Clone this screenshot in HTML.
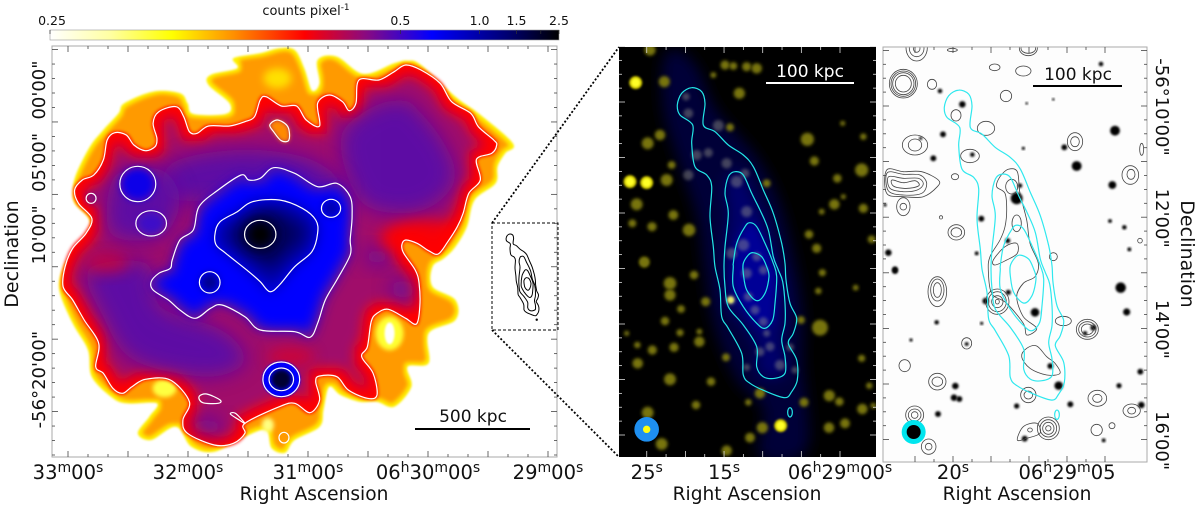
<!DOCTYPE html>
<html lang="en">
<head>
<meta charset="utf-8">
<title>Multi-wavelength cluster and galaxy maps</title>
<style>
html,body{margin:0;padding:0;background:#fff;width:1200px;height:505px;overflow:hidden}
svg{display:block}
text{font-family:"DejaVu Sans","Liberation Sans",sans-serif;fill:#111}
</style>
</head>
<body>
<svg id="fig" xmlns="http://www.w3.org/2000/svg" width="1200" height="505" viewBox="0 0 1200 505">
<defs>
<linearGradient id="cbar" x1="0" x2="1" y1="0" y2="0">
<stop offset="0" stop-color="#ffffff"/><stop offset=".12" stop-color="#ffffa0"/><stop offset=".24" stop-color="#ffff00"/><stop offset=".36" stop-color="#ff9000"/><stop offset=".5" stop-color="#ff0000"/><stop offset=".62" stop-color="#8a0a80"/><stop offset=".75" stop-color="#0000ff"/><stop offset=".9" stop-color="#000070"/><stop offset="1" stop-color="#000000"/>
</linearGradient>
<filter id="b1" x="-30%" y="-30%" width="160%" height="160%"><feGaussianBlur stdDeviation="1"/></filter>
<filter id="b15" x="-40%" y="-40%" width="180%" height="180%"><feGaussianBlur stdDeviation="1.5"/></filter>
<filter id="b2" x="-40%" y="-40%" width="180%" height="180%"><feGaussianBlur stdDeviation="2"/></filter>
<filter id="b4" x="-60%" y="-60%" width="220%" height="220%"><feGaussianBlur stdDeviation="4"/></filter>
<filter id="b6" x="-40%" y="-40%" width="180%" height="180%"><feGaussianBlur stdDeviation="6"/></filter>
<filter id="b7" x="-60%" y="-60%" width="220%" height="220%"><feGaussianBlur stdDeviation="7"/></filter>
<filter id="b10" x="-80%" y="-80%" width="260%" height="260%"><feGaussianBlur stdDeviation="10"/></filter>
<filter id="e3" x="-20%" y="-20%" width="140%" height="140%"><feMorphology operator="erode" radius="3"/><feGaussianBlur stdDeviation="2"/></filter>
<filter id="e6" x="-20%" y="-20%" width="140%" height="140%"><feMorphology operator="erode" radius="6"/><feGaussianBlur stdDeviation="5"/></filter>
<filter id="e8" x="-20%" y="-20%" width="140%" height="140%"><feMorphology operator="erode" radius="7"/><feGaussianBlur stdDeviation="6"/></filter>
<filter id="e12" x="-20%" y="-20%" width="140%" height="140%"><feMorphology operator="erode" radius="10"/><feGaussianBlur stdDeviation="8"/></filter>
<filter id="d2" x="-20%" y="-20%" width="140%" height="140%"><feMorphology operator="dilate" radius="1"/><feGaussianBlur stdDeviation="1.6"/></filter>
<clipPath id="clipL"><rect x="52" y="46" width="505" height="411"/></clipPath>
<clipPath id="clipM"><rect x="619" y="47" width="257" height="410"/></clipPath>
<clipPath id="clipR"><rect x="883" y="47" width="264" height="415"/></clipPath>
<clipPath id="clipOuter"><path id="clipOuterPath" d=""/></clipPath>
</defs>

<rect x="50" y="30" width="509" height="10" fill="url(#cbar)" stroke="#999" stroke-width="0.6"/>

<rect x="52" y="46" width="505" height="411" fill="#fff"/>
<g id="layerL" clip-path="url(#clipL)"></g>
<rect x="52" y="46" width="505" height="411" fill="none" stroke="#aaa" stroke-width="1"/>

<rect x="619" y="47" width="257" height="410" fill="#000"/>
<g id="layerM" clip-path="url(#clipM)"></g>

<rect x="883" y="47" width="264" height="415" fill="#fdfdfd"/>
<g id="layerR" clip-path="url(#clipR)"></g>
<rect x="883" y="47" width="264" height="415" fill="none" stroke="#aaa" stroke-width="1"/>

<g id="axes"></g>

<rect x="492" y="223" width="66" height="107" fill="none" stroke="#000" stroke-width="1" stroke-dasharray="3 2"/>
<line x1="492" y1="223" x2="619" y2="47" stroke="#000" stroke-width="1.8" stroke-dasharray="2 2"/>
<line x1="492" y1="330" x2="619" y2="457" stroke="#000" stroke-width="1.8" stroke-dasharray="2 2"/>
<g id="inset"></g>

<line x1="415" x2="530" y1="429" y2="429" stroke="#000" stroke-width="2"/>
<text x="473" y="422" text-anchor="middle" font-size="17">500 kpc</text>
<line x1="766" x2="854" y1="83" y2="83" stroke="#fff" stroke-width="2"/>
<text x="810" y="77" text-anchor="middle" font-size="17" style="fill:#fff">100 kpc</text>
<line x1="1033" x2="1122" y1="86" y2="86" stroke="#000" stroke-width="2"/>
<text x="1078" y="80" text-anchor="middle" font-size="17">100 kpc</text>

<text x="306" y="15" text-anchor="middle" font-size="13">counts pixel<tspan font-size="9" dy="-5">-1</tspan></text>
<text x="314" y="500" text-anchor="middle" font-size="18.6">Right Ascension</text>
<text x="747" y="500" text-anchor="middle" font-size="18.6">Right Ascension</text>
<text x="1017" y="500" text-anchor="middle" font-size="18.6">Right Ascension</text>
<text transform="translate(18,254) rotate(-90)" text-anchor="middle" font-size="19">Declination</text>
<text transform="translate(1181,254) rotate(90)" text-anchor="middle" font-size="19">Declination</text>
</svg>

<script>
// ---------- axis data ----------
const colorbarValues = [0.25, 0.5, 1.0, 1.5, 2.0, 2.5];
const colorbarLabels = ['0.25', '0.5', '1.0', '1.5', '', '2.5'];
const raLeftSeconds = [240, 180, 120, 60, 0];
const raLeftLabels = ['33^m00^s', '32^m00^s', '31^m00^s', '06^h30^m00^s', '29^m00^s'];
const decLeftMinutes = [0, 5, 10, 20];
const decLeftLabels = ['00\'00"', '05\'00"', '10\'00"', '-56\u00b020\'00"'];
const raMiddleSeconds = [25, 15, 0];
const raMiddleLabels = ['25^s', '15^s', '06^h29^m00^s'];
const raRightSeconds = [20, 5];
const raRightLabels = ['20^s', '06^h29^m05'];
const decRightMinutes = [10, 12, 14, 16];
const decRightLabels = ['-56\u00b010\'00"', '12\'00"', '14\'00"', '16\'00"'];

// ---------- X-ray map contours, in map-grid units ----------
const xrayEnvelope = [[190,570],[200,520],[235,440],[270,390],[310,340],[325,310],[400,275],[470,280],[490,310],[505,342],[590,342],[600,310],[545,255],[550,225],[620,205],[610,175],[680,160],[730,145],[770,150],[795,205],[815,272],[835,250],[830,180],[880,170],[950,222],[1030,190],[1065,182],[1100,195],[1190,290],[1250,340],[1340,430],[1320,460],[1300,500],[1295,550],[1240,600],[1220,680],[1190,740],[1160,775],[1130,800],[1130,860],[1190,900],[1190,960],[1120,1000],[1120,1090],[1065,1100],[1075,1160],[1030,1220],[985,1205],[940,1205],[890,1185],[860,1160],[845,1230],[835,1280],[770,1320],[745,1358],[710,1345],[695,1290],[640,1310],[560,1355],[500,1340],[460,1280],[395,1320],[360,1300],[390,1250],[410,1210],[330,1210],[290,1190],[240,1130],[230,1050],[190,970],[155,870],[165,800],[190,755],[235,670],[195,610]];
const xrayOuterContour = [[195,570],[215,540],[245,525],[270,480],[280,420],[300,398],[330,405],[350,435],[380,452],[405,440],[410,415],[400,370],[415,335],[460,320],[480,350],[495,395],[515,400],[545,378],[600,378],[640,365],[665,350],[680,300],[695,290],[735,318],[775,318],[800,360],[835,378],[830,310],[860,285],[895,305],[912,332],[930,310],[938,240],[990,240],[1030,215],[1060,195],[1100,210],[1150,250],[1180,305],[1230,340],[1250,380],[1290,420],[1298,435],[1285,460],[1245,478],[1255,540],[1225,580],[1210,640],[1195,680],[1170,725],[1145,762],[1120,752],[1090,730],[1060,720],[1050,735],[1055,760],[1085,810],[1095,850],[1097,920],[1088,972],[1060,955],[1015,928],[985,940],[970,965],[960,1040],[945,1070],[975,1120],[985,1185],[960,1195],[910,1170],[880,1130],[835,1128],[825,1145],[835,1200],[810,1238],[770,1210],[730,1220],[640,1270],[640,1300],[610,1330],[560,1335],[490,1300],[478,1260],[495,1205],[445,1140],[380,1138],[345,1160],[320,1180],[295,1165],[270,1120],[250,1100],[258,1030],[220,960],[190,900],[165,860],[170,800],[190,745],[225,700],[240,655],[205,610]];
const xrayMidContour = [[450,780],[470,720],[505,690],[520,620],[570,570],[630,525],[650,540],[680,535],[715,503],[770,520],[830,560],[880,550],[915,590],[920,650],[915,720],[915,765],[880,840],[850,900],[830,970],[810,1012],[770,995],[680,990],[640,950],[580,915],[550,925],[510,955],[470,930],[440,900],[400,870],[395,845],[415,820],[445,805]];
const xrayInnerContour = [[562,700],[575,665],[620,635],[660,605],[730,600],[790,625],[825,660],[830,700],[815,755],[770,800],[730,855],[705,875],[680,845],[650,815],[590,760],[565,735]];
const xrayPurpleRegions = [
  [[890,420],[960,330],[1050,300],[1100,340],[1160,430],[1190,530],[1140,610],[1050,640],[940,600]],
  [[450,490],[620,450],[790,470],[880,530],[880,580],[600,600],[440,590]],
  [[230,810],[380,790],[420,920],[560,980],[620,1030],[640,1090],[540,1130],[350,1080],[270,950]],
  [[300,530],[420,510],[470,600],[420,710],[290,700]],
  [[1025,845],[1075,845],[1080,890],[1030,890]],
  [[960,750],[1010,750],[1010,790],[960,790]],
  [[510,1260],[570,1260],[570,1300],[510,1300]]
];
const xrayBlobs = [[360,552,44,48,'#0a04e8'],[238,595,11,13,'#5010a8'],[395,670,34,32,'#3c10c8'],[865,625,23,25,'#0000b0'],[548,847,24,28,'#000090']];
const xrayLoops = [[360,552,47,53],[238,595,13,15],[395,670,40,38],[865,625,25,27],[548,847,27,32],[680,703,41,42],[735,1138,48,52],[735,1138,32,34],[742,1313,13,16]];
const xrayOrangeLoop = [[705,375],[725,360],[752,380],[755,420],[735,422],[715,395]];
const xraySmallLoopA = [[520,1190],[540,1182],[575,1200],[570,1210],[530,1208]];
const xraySmallLoopB = [[602,1242],[615,1240],[640,1270],[625,1260]];

// ---------- optical map data, in map-grid units ----------
const brightSources = [[107,158,18],[90,455,18],[140,458,18],[542,1187,18]];
const dimSources = [[193,155,15],[418,190,15],[143,340,16],[180,315,14],[110,523,16],[200,450,16],[220,555,13],[267,600,17],[133,695,13],[97,580,10],[156,590,12],[622,328,18],[643,393,12],[785,420,18],[712,445,11],[703,523,14],[790,535,12],[627,613,11],[815,628,10],[390,292,10],[375,105,12],[440,110,12],[470,115,14],[400,108,10],[215,405,10],[500,460,10],[150,60,15],[790,320,8],[650,655,12],[665,545,7],[728,280,6],[340,135,7],[730,500,6],[210,760,17],[210,795,15],[133,698,12],[282,735,11],[317,815,12],[243,837,10],[195,873,11],[240,908,9],[298,935,14],[298,905,7],[113,1000,14],[157,960,12],[222,952,12],[112,945,8],[80,910,6],[210,1048,16],[333,1055,11],[378,982,10],[288,1125,11],[143,1148,16],[185,1242,16],[380,1262,14],[450,1223,13],[487,1193,15],[480,1090,14],[445,1117,8],[612,1117,12],[688,1097,15],[718,1115,11],[787,1137,14],[735,1180,13],[687,1193,14],[820,1127,7],[660,893,22],[603,870,10],[667,728,9],[655,783,8],[785,985,9],[808,1067,8],[767,773,7]];
const galaxyKnots = [[265,250,13],[258,200,10],[355,287,15],[290,375,14],[325,368,12],[380,400,14],[265,435,14],[435,430,12],[410,455,16],[440,545,15],[430,645,16],[395,670,15],[470,680,12],[440,730,14],[490,720,12],[392,810,14],[445,800,12],[465,840,12],[490,875,12],[480,965,12],[510,950,12],[540,1005,14],[570,952,10],[440,1012,9],[585,1020,9],[500,910,9]];
const galaxyGlow = [[190,90],[230,60],[290,110],[350,240],[470,380],[540,520],[590,720],[610,860],[610,1000],[620,1260],[480,1280],[490,1140],[410,1050],[340,880],[310,700],[290,560],[230,380],[190,240]];
const cyanA = [[232,225],[245,190],[275,173],[305,185],[315,220],[310,285],[345,305],[385,345],[430,375],[460,410],[490,480],[520,550],[545,640],[555,700],[558,750],[570,820],[590,865],[580,910],[565,940],[590,990],[592,1050],[575,1085],[555,1103],[500,1085],[450,1060],[430,1035],[425,970],[385,895],[365,860],[360,780],[345,710],[340,650],[330,560],[335,470],[320,435],[285,410],[275,340],[278,285],[240,255]];
const cyanB = [[375,490],[385,440],[405,425],[430,435],[455,490],[480,540],[505,600],[520,680],[535,720],[548,755],[555,820],[555,880],[545,930],[555,980],[555,1030],[525,1045],[490,1040],[470,1010],[470,950],[430,885],[385,830],[375,770],[372,710],[375,650],[385,550]];
const cyanC = [[400,700],[410,640],[435,590],[450,578],[470,590],[495,640],[520,700],[530,740],[525,820],[518,870],[495,895],[470,880],[430,830],[400,770],[400,710]];
const cyanD = [[430,700],[445,675],[460,668],[485,680],[500,710],[507,740],[495,790],[470,812],[440,780],[430,730]];
const cyanIsland = [[570,1147,7,14]];

// ---------- radio/optical map data, in map-grid units ----------
const radioStars = [[247,223,8],[189,313,7],[160,385,7],[277,374,5],[122,325,3],[705,302,13],[590,408,13],[553,352,7],[697,465,10],[663,102,5],[180,183,5],[410,505,16],[420,467,5],[304,566,7],[383,632,6],[290,670,4],[25,668,8],[45,718,7],[690,573,4],[733,592,5],[748,658,4],[45,723,7],[722,773,14],[740,846,9],[385,787,6],[317,813,8],[465,847,11],[640,893,7],[615,910,5],[170,877,5],[511,1008,7],[536,1067,11],[781,1025,7],[717,1067,6],[226,1068,8],[222,1103,8],[238,1107,7],[410,1128,6],[571,1123,7],[784,1125,8],[174,1152,7],[434,1226,7],[671,1231,4],[260,942,4],[93,930,3],[305,880,3],[440,220,2],[520,208,2],[430,355,3],[15,525,3]];
const radioLoops = [[70,161,42,43],[70,161,37,38],[70,161,32,33],[70,161,24,25],[156,163,14,15],[378,198,17,17],[344,112,16,10],[430,123,23,15],[228,256,15,17],[318,295,26,21],[110,53,32,40],[110,55,22,25],[110,55,10,12],[445,55,27,22],[445,55,22,15],[217,60,15,5],[105,345,38,30],[105,345,20,18],[270,378,28,20],[585,335,23,27],[585,335,13,15],[751,435,25,28],[753,433,12,15],[225,440,11,9],[229,607,25,23],[229,607,16,14],[183,562,5,5],[780,632,7,7],[70,530,20,27],[70,530,10,10],[785,358,6,18],[520,680,12,12],[172,785,28,45],[172,780,20,33],[172,780,12,22],[352,815,35,38],[352,815,27,30],[352,815,17,18],[352,815,6,7],[550,873,24,14],[622,898,33,30],[622,898,26,23],[622,898,18,16],[260,940,15,17],[74,1007,17,18],[172,1055,26,25],[172,1055,16,14],[445,1095,23,23],[445,1095,13,12],[652,1105,28,24],[652,1105,14,12],[755,1142,26,20],[755,1142,12,10],[104,1155,27,27],[104,1155,19,18],[104,1155,10,10],[146,1250,22,23],[146,1250,10,10],[505,1195,33,34],[505,1195,25,26],[505,1195,17,18],[505,1195,8,8],[450,1200,7,6],[650,1200,17,17],[696,1187,9,9],[395,470,18,22],[410,580,14,25]];
const radioPeanuts = [
  [[20,420],[70,425],[125,425],[175,450],[172,470],[130,500],[70,500],[20,490]],
  [[22,428],[70,433],[120,435],[140,460],[125,490],[70,495],[25,482]],
  [[26,440],[70,445],[115,445],[130,462],[112,480],[70,485],[30,475]],
  [[36,450],[70,458],[105,452],[118,465],[100,473],[70,475],[40,468]]
];
const radioGalaxy = [[360,440],[385,418],[412,425],[420,490],[440,570],[450,640],[475,700],[465,740],[430,760],[410,800],[430,860],[470,895],[440,915],[430,880],[380,820],[335,790],[325,720],[330,680],[360,630],[375,590],[380,540],[375,490],[350,470]];
const radioGalaxyInner = [[340,690],[375,650],[410,640],[412,670],[380,690],[345,705]];
const radioGalaxyLoop = [[425,980],[440,955],[470,948],[500,980],[525,1000],[540,1030],[500,1035],[450,1015]];
const radioTail = [[412,1230],[430,1190],[470,1180],[480,1210],[440,1225]];

// ---------- helpers ----------
const NS = 'http://www.w3.org/2000/svg';
function mk(tag, attrs, parent, name) {
  const el = document.createElementNS(NS, tag);
  for (const k in attrs) el.setAttribute(k, attrs[k]);
  
  
  parent.appendChild(el);
  return el;
}
function smooth(pts) {
  const n = pts.length;
  let d = 'M' + pts[0][0].toFixed(1) + ' ' + pts[0][1].toFixed(1);
  for (let i = 0; i < n; i++) {
    const p0 = pts[(i - 1 + n) % n], p1 = pts[i], p2 = pts[(i + 1) % n], p3 = pts[(i + 2) % n];
    d += 'C' + (p1[0] + (p2[0] - p0[0]) / 6).toFixed(1) + ' ' + (p1[1] + (p2[1] - p0[1]) / 6).toFixed(1) + ' ' +
      (p2[0] - (p3[0] - p1[0]) / 6).toFixed(1) + ' ' + (p2[1] - (p3[1] - p1[1]) / 6).toFixed(1) + ' ' +
      p2[0].toFixed(1) + ' ' + p2[1].toFixed(1);
  }
  return d + 'Z';
}
const lx = v => v / 2.613, ly = v => v / 3;
const mx = v => 600 + v / 3, my = v => 30 + v / 3;
const rx = v => 880 + v / 3, ry = v => 30 + v / 3;
const inX = v => 506 + (v - 677) * 0.272, inY = v => 234 + (v - 87.7) * 0.264;
const mapL = pts => pts.map(p => [lx(p[0]), ly(p[1])]);
const mapM = pts => pts.map(p => [mx(p[0]), my(p[1])]);
const mapR = pts => pts.map(p => [rx(p[0]), ry(p[1])]);
const raL = s => 548 - s * 2;
const decL = m => 93 + m * 14.48;
const raM = s => 840 - s * 7.73;
const decM = m => 102 + (m - 10) * 55.5;
const raR = s => 1067 + (5 - s) * 7.6;
const decR = m => 106 + (m - 10) * 55.6;
const cbX = v => 50 + 509 * Math.log((v - 0.248) / 0.002) / Math.log(2.252 / 0.002);

const L = document.getElementById('layerL');
const M = document.getElementById('layerM');
const R = document.getElementById('layerR');
const axes = document.getElementById('axes');
const inset = document.getElementById('inset');

// ---------- X-ray panel ----------
document.getElementById('clipOuterPath').setAttribute('d', smooth(mapL(xrayOuterContour)));
mk('path', {d: smooth(mapL(xrayEnvelope)), fill: '#fff200', filter: 'url(#b1)'}, L, 'xray-yellow-halo');
mk('path', {d: smooth(mapL(xrayEnvelope)), fill: '#ff9a00', filter: 'url(#e3)'}, L, 'xray-orange-zone');
mk('ellipse', {cx: lx(1018), cy: ly(1000), rx: 14, ry: 17, fill: '#ffff30', filter: 'url(#b2)'}, L, 'xray-yellow-hole');
mk('ellipse', {cx: lx(1018), cy: ly(1000), rx: 5, ry: 11, fill: '#fff', filter: 'url(#b1)'}, L, 'xray-white-hole');
mk('ellipse', {cx: lx(725), cy: ly(235), rx: 14, ry: 10, fill: '#ffe000', filter: 'url(#b4)'}, L, 'xray-yellow-patch');
mk('ellipse', {cx: lx(430), cy: ly(1165), rx: 12, ry: 9, fill: '#ffff40', filter: 'url(#b2)'}, L, 'xray-yellow-patch-lower');
mk('ellipse', {cx: lx(700), cy: ly(1275), rx: 6, ry: 7, fill: '#ffff80', filter: 'url(#b2)'}, L, 'xray-pale-patch');
mk('path', {d: smooth(mapL(xrayOuterContour)), fill: '#ff0000', filter: 'url(#d2)'}, L, 'xray-red-zone');
const inner = mk('g', {'clip-path': 'url(#clipOuter)'}, L, 'xray-interior');
mk('path', {d: smooth(mapL(xrayOuterContour)), fill: '#a0086a', filter: 'url(#e8)'}, inner, 'xray-magenta-zone');
xrayPurpleRegions.forEach(region => {
  mk('path', {d: smooth(mapL(region)), fill: '#5a0fa8', filter: 'url(#b10)', opacity: 0.95}, inner, 'xray-purple-region');
});
mk('ellipse', {cx: lx(1110), cy: ly(715), rx: 45, ry: 18, fill: '#ff0000', filter: 'url(#b7)', opacity: 0.9}, inner, 'xray-red-right');
mk('ellipse', {cx: lx(760), cy: ly(1070), rx: 24, ry: 9, fill: '#e00020', filter: 'url(#b7)', opacity: 0.7}, inner, 'xray-red-south');
mk('ellipse', {cx: lx(280), cy: ly(790), rx: 22, ry: 10, fill: '#e00020', filter: 'url(#b7)', opacity: 0.6}, inner, 'xray-red-west');
mk('path', {d: smooth(mapL(xrayOrangeLoop)), fill: '#ff8a00', filter: 'url(#b2)'}, L, 'xray-orange-hole');
mk('path', {d: smooth(mapL(xrayMidContour)), fill: '#3008c8', filter: 'url(#b6)'}, L, 'xray-blue-halo');
mk('path', {d: smooth(mapL(xrayMidContour)), fill: '#0000ff', filter: 'url(#e6)'}, L, 'xray-blue-zone');
mk('path', {d: smooth(mapL(xrayInnerContour)), fill: '#0000b0', filter: 'url(#b7)'}, L, 'xray-navy-halo');
mk('path', {d: smooth(mapL(xrayInnerContour)), fill: '#000060', filter: 'url(#e12)'}, L, 'xray-navy-zone');
mk('ellipse', {cx: lx(680), cy: ly(703), rx: 18, ry: 17, fill: '#000020', filter: 'url(#b7)'}, L, 'xray-core-halo');
mk('ellipse', {cx: lx(680), cy: ly(703), rx: 9, ry: 9, fill: '#000', filter: 'url(#b4)'}, L, 'xray-core');
xrayBlobs.forEach(b => {
  mk('ellipse', {cx: lx(b[0]), cy: ly(b[1]), rx: b[2] / 2.613, ry: b[3] / 3, fill: b[4], filter: 'url(#b4)'}, L, 'xray-source');
});
mk('ellipse', {cx: lx(735), cy: ly(1138), rx: 19, ry: 18, fill: '#0000ff', filter: 'url(#b1)'}, L, 'xray-southern-source');
mk('ellipse', {cx: lx(735), cy: ly(1138), rx: 10, ry: 10, fill: '#000030', filter: 'url(#b2)'}, L, 'xray-southern-core');
mk('ellipse', {cx: lx(742), cy: ly(1313), rx: 5, ry: 5, fill: '#ff9a00', filter: 'url(#b1)'}, L, 'xray-southern-knot');
const whiteStroke = {fill: 'none', stroke: '#fff', 'stroke-width': 1.2};
[xrayOuterContour, xrayMidContour, xrayInnerContour, xrayOrangeLoop, xraySmallLoopA, xraySmallLoopB].forEach(c => {
  mk('path', Object.assign({d: smooth(mapL(c))}, whiteStroke), L, 'xray-contour');
});
xrayLoops.forEach(e => {
  mk('ellipse', Object.assign({cx: lx(e[0]), cy: ly(e[1]), rx: e[2] / 2.613, ry: e[3] / 3}, whiteStroke), L, 'xray-contour-loop');
});

// ---------- optical panel ----------
mk('path', {d: smooth(mapM(galaxyGlow)), fill: '#040438', filter: 'url(#b7)'}, M, 'galaxy-glow');
mk('path', {d: smooth(mapM(cyanB)), fill: '#00006c', filter: 'url(#b7)'}, M, 'galaxy-glow-inner');
mk('path', {d: smooth(mapM(cyanC)), fill: '#000096', filter: 'url(#b4)'}, M, 'galaxy-glow-core');
dimSources.forEach(s => {
  mk('circle', {cx: mx(s[0]), cy: my(s[1]), r: s[2] / 3 + 0.6, fill: '#787410', filter: 'url(#b15)'}, M, 'optical-source');
});
brightSources.forEach(s => {
  mk('circle', {cx: mx(s[0]), cy: my(s[1]), r: s[2] / 3 + 0.5, fill: '#c8c000', filter: 'url(#b1)'}, M, 'optical-source-halo');
  mk('circle', {cx: mx(s[0]), cy: my(s[1]), r: s[2] / 3 - 1.5, fill: '#ffff28', filter: 'url(#b1)'}, M, 'optical-source-bright');
});
galaxyKnots.forEach(s => {
  mk('circle', {cx: mx(s[0]), cy: my(s[1]), r: s[2] / 3 + 0.5, fill: '#a0a090', opacity: 0.42, filter: 'url(#b15)'}, M, 'galaxy-knot');
});
mk('circle', {cx: mx(392), cy: my(810), r: 3.5, fill: '#e8e870', filter: 'url(#b1)'}, M, 'galaxy-bright-knot');
[cyanA, cyanB, cyanC, cyanD].forEach(c => {
  mk('path', {d: smooth(mapM(c)), fill: 'none', stroke: '#22e6e6', 'stroke-width': 1.2}, M, 'optical-contour');
});
cyanIsland.forEach(e => {
  mk('ellipse', {cx: mx(e[0]), cy: my(e[1]), rx: e[2] / 3, ry: e[3] / 3, fill: 'none', stroke: '#22e6e6', 'stroke-width': 1.2}, M, 'optical-contour-island');
});
mk('circle', {cx: mx(140), cy: my(1198), r: 12.3, fill: '#1e8ff0'}, M, 'optical-beam');
mk('circle', {cx: mx(140), cy: my(1198), r: 3.7, fill: '#ffff10'}, M, 'optical-beam-core');

// ---------- radio panel ----------
radioStars.forEach(s => {
  mk('circle', {cx: rx(s[0]), cy: ry(s[1]), r: s[2] / 3 + 0.6, fill: '#000', filter: 'url(#b1)'}, R, 'radio-star');
});
const grayStroke = {fill: 'none', stroke: '#444', 'stroke-width': 0.8};
radioLoops.forEach(e => {
  mk('ellipse', Object.assign({cx: rx(e[0]), cy: ry(e[1]), rx: e[2] / 3, ry: e[3] / 3}, grayStroke), R, 'radio-contour-loop');
});
radioPeanuts.concat([radioGalaxy, radioGalaxyInner, radioGalaxyLoop, radioTail]).forEach(c => {
  mk('path', Object.assign({d: smooth(mapR(c))}, grayStroke), R, 'radio-contour');
});
const shiftR = pts => mapM(pts).map(p => [p[0] + 267, p[1] + 2.4]);
[cyanA, cyanB, cyanC, cyanD].forEach(c => {
  mk('path', {d: smooth(shiftR(c)), fill: 'none', stroke: '#2fe8ee', 'stroke-width': 1.2}, R, 'radio-cyan-contour');
});
cyanIsland.forEach(e => {
  mk('ellipse', {cx: mx(e[0]) + 267, cy: my(e[1]) + 2.4, rx: e[2] / 3, ry: e[3] / 3, fill: 'none', stroke: '#2fe8ee', 'stroke-width': 1.2}, R, 'radio-cyan-island');
});
mk('circle', {cx: rx(101), cy: ry(1206), r: 12, fill: '#00e5ee'}, R, 'radio-beam');
mk('circle', {cx: rx(101), cy: ry(1206), r: 7, fill: '#000'}, R, 'radio-beam-core');

// ---------- inset ----------
[cyanA, cyanB, cyanC, cyanD].forEach(c => {
  const pts = mapM(c).map(p => [inX(p[0]), inY(p[1])]);
  mk('path', {d: smooth(pts), fill: 'none', stroke: '#000', 'stroke-width': 1}, inset, 'inset-contour');
});
cyanIsland.forEach(e => {
  mk('circle', {cx: inX(mx(e[0])), cy: inY(my(e[1])), r: 1.2, fill: '#000'}, inset, 'inset-contour-dot');
});

// ---------- axes ----------
function richText(str, attrs, name, size) {
  const t = mk('text', attrs, axes, name);
  const parts = str.split('^');
  const rise = size * 0.36;
  parts.forEach((part, i) => {
    if (i === 0) {
      t.appendChild(document.createTextNode(part));
      return;
    }
    const sup = document.createElementNS(NS, 'tspan');
    sup.setAttribute('font-size', size * 0.72);
    sup.setAttribute('dy', -rise);
    sup.textContent = part[0];
    t.appendChild(sup);
    if (part.length > 1) {
      const rest = document.createElementNS(NS, 'tspan');
      rest.setAttribute('dy', rise);
      rest.textContent = part.slice(1);
      t.appendChild(rest);
    }
  });
  return t;
}
function hTicks(f, from, to, step, majorEvery, y0, y1, color) {
  const n = Math.round((to - from) / step);
  for (let i = 0; i <= n; i++) {
    const v = from + i * step, major = i % majorEvery === 0, len = major ? 6 : 3, x = f(v);
    mk('line', {x1: x, x2: x, y1: y0, y2: y0 + len, stroke: color, 'stroke-width': 0.8}, axes, 'x-tick-top');
    mk('line', {x1: x, x2: x, y1: y1, y2: y1 - len, stroke: color, 'stroke-width': 0.8}, axes, 'x-tick-bottom');
  }
}
function vTicks(f, from, to, step, majorEvery, x0, x1, color) {
  const n = Math.round((to - from) / step);
  for (let i = 0; i <= n; i++) {
    const v = from + i * step, major = i % majorEvery === 0, len = major ? 6 : 3, y = f(v);
    mk('line', {x1: x0, x2: x0 + len, y1: y, y2: y, stroke: color, 'stroke-width': 0.8}, axes, 'y-tick-left');
    mk('line', {x1: x1, x2: x1 - len, y1: y, y2: y, stroke: color, 'stroke-width': 0.8}, axes, 'y-tick-right');
  }
}
hTicks(raL, 0, 240, 10, 3, 46, 457, '#444');
vTicks(decL, -3, 25, 1, 5, 52, 557, '#444');
hTicks(raM, 0, 25, 2.5, 2, 47, 457, '#ddd');
vTicks(decM, 9, 16, 0.25, 4, 619, 876, '#ddd');
hTicks(raR, 0, 25, 2.5, 2, 47, 462, '#444');
vTicks(decR, 9, 16, 0.25, 4, 883, 1147, '#444');

colorbarValues.forEach((v, i) => {
  const x = cbX(v);
  mk('line', {x1: x, x2: x, y1: 30, y2: 34, stroke: '#333', 'stroke-width': 0.7}, axes, 'colorbar-tick');
  if (colorbarLabels[i]) {
    const t = mk('text', {x: x + (i === 0 ? 2 : 0), y: 25, 'text-anchor': 'middle', 'font-size': 12.5}, axes, 'colorbar-label');
    t.textContent = colorbarLabels[i];
  }
});
raLeftSeconds.forEach((s, i) => {
  richText(raLeftLabels[i], {x: raL(s), y: 479, 'text-anchor': 'middle', 'font-size': 19.5}, 'x-tick-label-xray', 19.5);
});
decLeftMinutes.forEach((m, i) => {
  richText(decLeftLabels[i], {transform: 'translate(45,' + (decL(m) - 3) + ') rotate(-90)', 'text-anchor': 'middle', 'font-size': 18}, 'y-tick-label-left', 18);
});
raMiddleSeconds.forEach((s, i) => {
  richText(raMiddleLabels[i], {x: raM(s), y: 479, 'text-anchor': 'middle', 'font-size': 19.5}, 'x-tick-label-optical', 19.5);
});
raRightSeconds.forEach((s, i) => {
  richText(raRightLabels[i], {x: raR(s), y: 479, 'text-anchor': 'middle', 'font-size': 19.5}, 'x-tick-label-radio', 19.5);
});
decRightMinutes.forEach((m, i) => {
  richText(decRightLabels[i], {transform: 'translate(1156,' + (decR(m) + 1) + ') rotate(90)', 'text-anchor': 'middle', 'font-size': 18}, 'y-tick-label-right', 18);
});
</script>
</body>
</html>
